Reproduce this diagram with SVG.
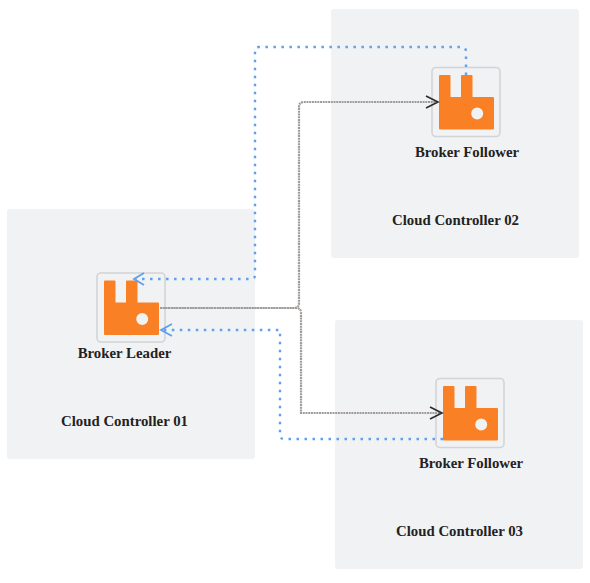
<svg xmlns="http://www.w3.org/2000/svg" width="590" height="583" viewBox="0 0 590 583">
<style>
.panel{fill:#f1f2f4}
.frame{fill:#f1f2f4;stroke:#d3d4d6;stroke-width:1.6}
.logo{fill:#f98025;fill-rule:evenodd}
text{font-family:"Liberation Serif","Times New Roman",serif;font-weight:700;font-size:14.8px;fill:#222;text-anchor:middle}
.gray{fill:none;stroke:#a09c99;stroke-width:2.2;stroke-dasharray:2 .7}
.blue{fill:none;stroke:#5f9fee;stroke-width:2.4;stroke-dasharray:2.5 5.5}
.head-b{fill:none;stroke:#5f9fee;stroke-width:1.8}
.head-g{fill:none;stroke:#2c2c2c;stroke-width:1.6}
</style>
<defs>
<g id="icon">
<rect class="frame" x="-7" y="-7.500" width="68" height="69" rx="4"/>
<path class="logo" d="M1 0H10.500Q11.500 0 11.500 1V22H22V1Q22 0 23 0H32.500Q33.500 0 33.500 1V22H54Q55 22 55 23V53.500Q55 54.500 54 54.500H1Q0 54.500 0 53.500V1Q0 0 1 0ZM32.200 38.500a6 6 0 1 0 12 0a6 6 0 1 0 -12 0Z"/>
</g>
</defs>
<g id="cloud-controller-01"><rect class="panel" x="7" y="209" width="248" height="250" rx="3"/><text x="124.500" y="425.500">Cloud Controller 01</text></g>
<g id="cloud-controller-02"><rect class="panel" x="331" y="9" width="248" height="249" rx="3"/><text x="455.500" y="224.500">Cloud Controller 02</text></g>
<g id="cloud-controller-03"><rect class="panel" x="335" y="320" width="248" height="249" rx="3"/><text x="459.500" y="535.500">Cloud Controller 03</text></g>
<g id="broker-leader"><use href="#icon" x="104" y="280.500"/><text x="124.500" y="357.500">Broker Leader</text></g>
<g id="broker-follower-02"><use href="#icon" x="439" y="75"/><text x="467" y="156.500">Broker Follower</text></g>
<g id="broker-follower-03"><use href="#icon" x="443" y="386"/><text x="471" y="467.500">Broker Follower</text></g>
<g id="connectors">
<path class="gray" d="M160 308H294Q299 308 299 303V107Q299 102 304 102H436"/>
<path class="gray" d="M160 308H296Q301 308 301 313V413H440"/>
<path class="head-g" d="M426 96L438 102L426 108"/>
<path class="head-g" d="M430 407L442 413L430 419"/>
<path class="blue" d="M466 75V52Q466 47 461 47H259Q255 47 255 51V275Q255 279 251 279H136"/>
<path class="blue" d="M443 439H284Q280 439 280 435V330H162"/>
<path class="head-b" d="M144 273L134 279L144 285"/>
<path class="head-b" d="M172 324L161 330L172 336"/>
</g>
</svg>
